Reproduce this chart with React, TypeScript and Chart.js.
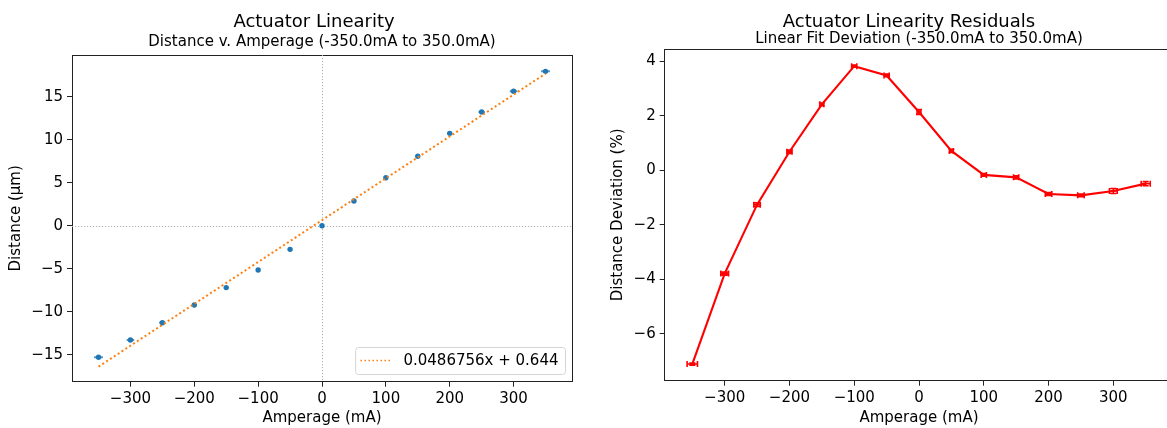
import React, { useEffect, useRef } from "react";
import { Chart, registerables } from "chart.js";
Chart.register(...registerables);

// ---------- data ----------
const AMPERAGE = [-350, -300, -250, -200, -150, -100, -50, 0, 50, 100, 150, 200, 250, 300, 350];
const DISTANCE = [-15.3, -13.29, -11.28, -9.22, -7.2, -5.15, -2.75, 0.0, 2.87, 5.58, 8.07, 10.74, 13.22, 15.63, 17.95];
const DISTANCE_XERR = [7, 6, 5, 3, 2, 2, 1, 1, 1, 2, 2, 3, 5, 6, 7];
const DISTANCE_YERR = [0.08, 0.08, 0.08, 0.06, 0.05, 0.05, 0.05, 0.05, 0.05, 0.05, 0.05, 0.06, 0.08, 0.08, 0.1];
const FIT_SLOPE = 0.0486756;
const FIT_INTERCEPT = 0.644;
const FIT_LABEL = "0.0486756x + 0.644";
const FIT_RANGE = [-350, 350];

const DEVIATION = [-7.11, -3.79, -1.26, 0.68, 2.42, 3.82, 3.48, 2.14, 0.71, -0.17, -0.26, -0.87, -0.92, -0.76, -0.49];
const DEVIATION_XERR = [8, 6, 5, 4, 3, 4, 4, 3, 3, 4, 4, 5, 5, 6, 7];
const DEVIATION_YERR = [0.04, 0.06, 0.07, 0.06, 0.05, 0.04, 0.05, 0.09, 0.06, 0.05, 0.06, 0.05, 0.05, 0.09, 0.08];

const X_TICKS = [-300, -200, -100, 0, 100, 200, 300];
const LEFT_Y_TICKS = [-15, -10, -5, 0, 5, 10, 15];
const RIGHT_Y_TICKS = [-6, -4, -2, 0, 2, 4];

const LEFT_TITLE = "Actuator Linearity";
const LEFT_SUBTITLE = "Distance v. Amperage (-350.0mA to 350.0mA)";
const LEFT_Y_LABEL = "Distance (μm)";
const RIGHT_TITLE = "Actuator Linearity Residuals";
const RIGHT_SUBTITLE = "Linear Fit Deviation (-350.0mA to 350.0mA)";
const RIGHT_Y_LABEL = "Distance Deviation (%)";
const X_LABEL = "Amperage (mA)";

const FONT = '"DejaVu Sans", sans-serif';
const TEXT_SIZE = 15;
const SPINE = "#222";

// ---------- plugins ----------
function drawErrors(chart: any, phase: string) {
  const { ctx } = chart;
  const xs = chart.scales.x;
  const ys = chart.scales.y;
  chart.data.datasets.forEach((ds: any) => {
    if (!ds.errX || ds.errPhase !== phase) return;
    ctx.save();
    ctx.strokeStyle = ds.errColor;
    ctx.lineWidth = ds.errWidth;
    const cap = ds.capSize || 0;
    ds.data.forEach((p: any, i: number) => {
      const px = xs.getPixelForValue(p.x);
      const py = ys.getPixelForValue(p.y);
      const x0 = xs.getPixelForValue(p.x - ds.errX[i]);
      const x1 = xs.getPixelForValue(p.x + ds.errX[i]);
      const y0 = ys.getPixelForValue(p.y - ds.errY[i]);
      const y1 = ys.getPixelForValue(p.y + ds.errY[i]);
      ctx.beginPath();
      ctx.moveTo(x0, py);
      ctx.lineTo(x1, py);
      ctx.moveTo(px, y0);
      ctx.lineTo(px, y1);
      if (cap > 0) {
        ctx.moveTo(x0, py - cap);
        ctx.lineTo(x0, py + cap);
        ctx.moveTo(x1, py - cap);
        ctx.lineTo(x1, py + cap);
        ctx.moveTo(px - cap, y0);
        ctx.lineTo(px + cap, y0);
        ctx.moveTo(px - cap, y1);
        ctx.lineTo(px + cap, y1);
      }
      ctx.stroke();
    });
    ctx.restore();
  });
}

const errorBarPlugin = {
  id: "errorBars",
  beforeDatasetsDraw(chart: any) {
    drawErrors(chart, "before");
  },
  afterDatasetsDraw(chart: any) {
    drawErrors(chart, "after");
  },
};

const framePlugin = {
  id: "frame",
  afterLayout(chart: any, _a: any, opts: any) {
    const shifts = (opts && opts.titleShifts) || {};
    (chart.boxes || []).forEach((b: any) => {
      const t = b && b.options && b.options.text;
      if (typeof t === "string" && shifts[t]) {
        b.left += shifts[t];
        b.right += shifts[t];
      }
    });
  },
  beforeDatasetsDraw(chart: any, _a: any, opts: any) {
    if (!opts || !opts.zeroLines) return;
    const { ctx, chartArea } = chart;
    const x0 = Math.round(chart.scales.x.getPixelForValue(0)) + 0.5;
    const y0 = Math.round(chart.scales.y.getPixelForValue(0)) + 0.5;
    ctx.save();
    ctx.strokeStyle = "#b0b0b0";
    ctx.lineWidth = 1;
    ctx.setLineDash([1.2, 1.8]);
    ctx.beginPath();
    ctx.moveTo(x0, chartArea.top);
    ctx.lineTo(x0, chartArea.bottom);
    ctx.moveTo(chartArea.left, y0);
    ctx.lineTo(chartArea.right, y0);
    ctx.stroke();
    ctx.restore();
  },
  afterDraw(chart: any, _a: any, opts: any) {
    const { ctx, chartArea } = chart;
    if (opts && opts.legendText) {
      ctx.save();
      ctx.font = TEXT_SIZE + "px " + FONT;
      const tw = ctx.measureText(opts.legendText).width;
      const right = chartArea.right - 7;
      const bottom = chartArea.bottom - 7.7;
      const h = 27;
      const w = 5.3 + 30 + 13 + tw + 6.5;
      const left = right - w;
      const top = bottom - h;
      ctx.beginPath();
      ctx.roundRect(left + 0.5, top + 0.5, w, h, 3);
      ctx.fillStyle = "rgba(255,255,255,0.8)";
      ctx.fill();
      ctx.strokeStyle = "#d5d5d5";
      ctx.lineWidth = 1;
      ctx.stroke();
      const cy = top + h / 2;
      ctx.strokeStyle = opts.legendColor;
      ctx.lineWidth = 1.5;
      ctx.setLineDash([1.5, 2.5]);
      ctx.beginPath();
      ctx.moveTo(left + 5.3, cy);
      ctx.lineTo(left + 35.3, cy);
      ctx.stroke();
      ctx.setLineDash([]);
      ctx.fillStyle = "#000";
      ctx.textBaseline = "middle";
      ctx.textAlign = "left";
      ctx.fillText(opts.legendText, left + 48.3, cy + 1);
      ctx.restore();
    }
  },
};

const minus = (v: any) => String(v).replace("-", "\u2212");

function axisCommon(ticks: number[], min: number, max: number, label: string, isY: boolean, size: number, titlePad: any) {
  return {
    type: "linear",
    min,
    max,
    afterBuildTicks: (scale: any) => {
      scale.ticks = ticks.map((v) => ({ value: v }));
    },
    afterFit: (scale: any) => {
      if (isY) scale.width = size;
      else scale.height = size;
    },
    grid: {
      drawOnChartArea: false,
      drawTicks: true,
      tickLength: 5,
      tickColor: SPINE,
      tickWidth: 1,
    },
    border: { display: true, color: SPINE, width: 1 },
    ticks: {
      color: "#000",
      font: { family: FONT, size: TEXT_SIZE },
      padding: isY ? 4 : 3,
      autoSkip: false,
      maxRotation: 0,
      callback: (v: any) => minus(v),
    },
    title: {
      display: true,
      text: label,
      color: "#000",
      font: { family: FONT, size: TEXT_SIZE },
      padding: titlePad,
    },
  };
}

// frame-only axes (top and right spines, like matplotlib's box)
function spineAxis(position: string) {
  const horizontal = position === "top";
  return {
    type: "linear",
    position,
    axis: horizontal ? "x" : "y",
    display: true,
    ticks: { display: false },
    grid: { drawOnChartArea: false, drawTicks: false },
    border: { display: true, color: SPINE, width: 1 },
    afterFit: (scale: any) => {
      if (horizontal) scale.height = 0;
      else scale.width = 0;
    },
  };
}

function titles(title: string, subtitle: string, titleCenter: number, subCenter: number, areaTop: number) {
  const tSize = 18;
  const sSize = 15;
  const tTop = titleCenter - tSize / 2;
  const tBottom = titleCenter + tSize / 2;
  const sTop = subCenter - sSize / 2 - tBottom;
  const sBottom = areaTop - (subCenter + sSize / 2);
  return {
    title: {
      display: true,
      text: title,
      color: "#000",
      fullSize: false,
      font: { family: FONT, size: tSize, lineHeight: 1, weight: "normal" },
      padding: { top: tTop, bottom: 0 },
    },
    subtitle: {
      display: true,
      text: subtitle,
      color: "#000",
      fullSize: false,
      font: { family: FONT, size: sSize, lineHeight: 1 },
      padding: { top: sTop, bottom: sBottom },
    },
  };
}

function LeftChart() {
  const ref = useRef<HTMLCanvasElement>(null);
  useEffect(() => {
    const points = AMPERAGE.map((x, i) => ({ x, y: DISTANCE[i] }));
    const fit = FIT_RANGE.map((x) => ({ x, y: FIT_SLOPE * x + FIT_INTERCEPT }));
    const chart = new Chart(ref.current as HTMLCanvasElement, {
      type: "scatter",
      data: {
        datasets: [
          {
            label: FIT_LABEL,
            data: fit,
            showLine: true,
            borderColor: "#ff7f0e",
            borderWidth: 2,
            borderDash: [2, 2.6],
            pointRadius: 0,
          } as any,
          {
            label: "Distance",
            data: points,
            backgroundColor: "#1f77b4",
            borderColor: "#1f77b4",
            borderWidth: 0,
            pointRadius: 2.7,
            errX: DISTANCE_XERR,
            errY: DISTANCE_YERR,
            errColor: "rgba(31,119,180,0.75)",
            errWidth: 2,
            capSize: 0,
            errPhase: "before",
          } as any,
        ],
      },
      options: {
        animation: false,
        responsive: false,
        layout: { padding: { left: 0, right: 28, top: 0, bottom: 0 } },
        scales: {
          x: axisCommon(X_TICKS, -391.5, 391.5, X_LABEL, false, 46.3, { top: 0, bottom: 1 }) as any,
          y: axisCommon(LEFT_Y_TICKS, -18.14, 19.85, LEFT_Y_LABEL, true, 72, { top: 7, bottom: 0 }) as any,
          xTop: spineAxis("top") as any,
          yRight: spineAxis("right") as any,
        },
        plugins: {
          legend: { display: false },
          tooltip: { enabled: false },
          ...titles(LEFT_TITLE, LEFT_SUBTITLE, 22, 42, 55),
          frame: {
            zeroLines: true,
            legendText: FIT_LABEL,
            legendColor: "#ff7f0e",
            titleShifts: { [LEFT_TITLE]: -8 },
          },
        } as any,
      },
      plugins: [errorBarPlugin, framePlugin],
    });
    return () => chart.destroy();
  }, []);
  return (
    <canvas
      ref={ref}
      width={600}
      height={428}
      style={{ position: "absolute", left: 0, top: 0, width: 600, height: 428 }}
    />
  );
}

function RightChart() {
  const ref = useRef<HTMLCanvasElement>(null);
  useEffect(() => {
    const points = AMPERAGE.map((x, i) => ({ x, y: DEVIATION[i] }));
    const chart = new Chart(ref.current as HTMLCanvasElement, {
      type: "scatter",
      data: {
        datasets: [
          {
            label: "Deviation",
            data: points,
            showLine: true,
            borderColor: "#ff0000",
            backgroundColor: "#ff0000",
            borderWidth: 2.1,
            pointRadius: 0,
            errX: DEVIATION_XERR,
            errY: DEVIATION_YERR,
            errColor: "#ff0000",
            errWidth: 1.6,
            capSize: 3,
            errPhase: "after",
          } as any,
        ],
      },
      options: {
        animation: false,
        responsive: false,
        layout: { padding: { left: 0, right: 16.7, top: 0, bottom: 0 } },
        scales: {
          x: axisCommon(X_TICKS, -392.6, 392.6, X_LABEL, false, 47.3, { top: 0, bottom: 1 }) as any,
          y: axisCommon(RIGHT_Y_TICKS, -7.72, 4.45, RIGHT_Y_LABEL, true, 64.7, { top: 9, bottom: 0 }) as any,
          xTop: spineAxis("top") as any,
          yRight: spineAxis("right") as any,
        },
        plugins: {
          legend: { display: false },
          tooltip: { enabled: false },
          ...titles(RIGHT_TITLE, RIGHT_SUBTITLE, 22, 39, 49),
          frame: { zeroLines: false, titleShifts: { [RIGHT_TITLE]: -10 } },
        } as any,
      },
      plugins: [errorBarPlugin, framePlugin],
    });
    return () => chart.destroy();
  }, []);
  return (
    <canvas
      ref={ref}
      width={590}
      height={428}
      style={{ position: "absolute", left: 600, top: 0, width: 590, height: 428 }}
    />
  );
}

export default function App() {
  return (
    <div
      style={{
        position: "fixed",
        left: 0,
        top: 0,
        width: 1167,
        height: 428,
        overflow: "hidden",
        background: "#fff",
      }}
    >
      <LeftChart />
      <RightChart />
    </div>
  );
}
